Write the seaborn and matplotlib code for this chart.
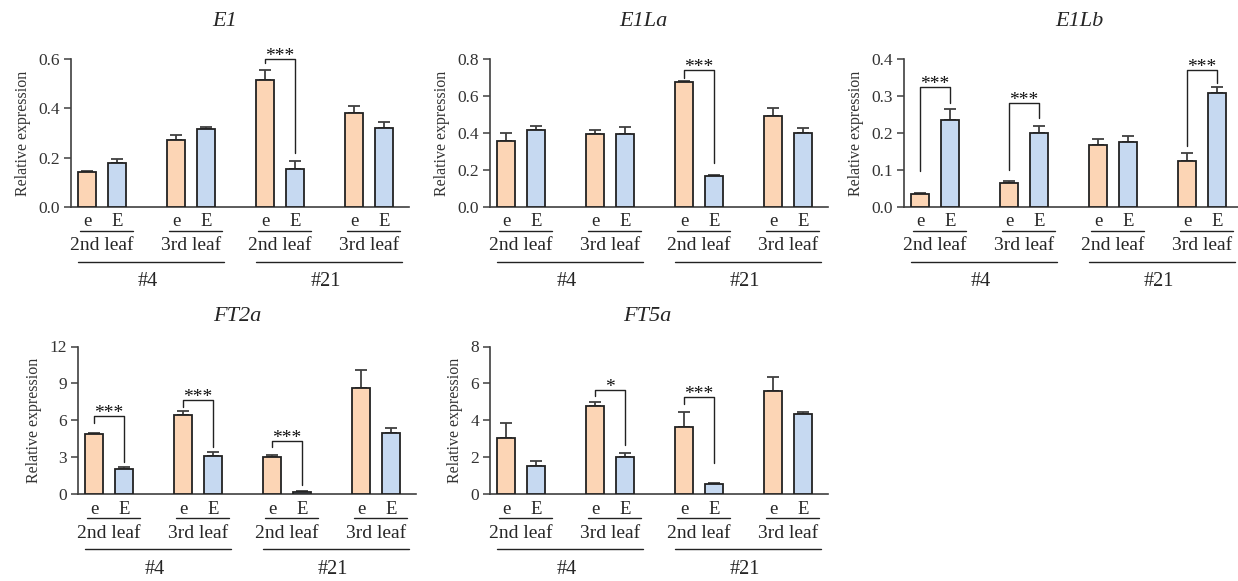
import numpy as np
import pandas as pd
import seaborn as sns
import matplotlib as mpl
import matplotlib.pyplot as plt

############################# DATA #############################
genes      = ["E1", "E1La", "E1Lb", "FT2a", "FT5a"]
treatments = ["e", "E"]
leaves     = ["2nd leaf", "3rd leaf", "2nd leaf", "3rd leaf"]
lines      = ["#4", "#21"]

# mean expression per group (#4 2nd, #4 3rd, #21 2nd, #21 3rd)
e_vals = {"E1":   [0.14, 0.27, 0.515, 0.38],
          "E1La": [0.355, 0.395, 0.675, 0.49],
          "E1Lb": [0.035, 0.065, 0.168, 0.123],
          "FT2a": [4.9, 6.45, 3.0, 8.6],
          "FT5a": [3.05, 4.8, 3.65, 5.6]}
E_vals = {"E1":   [0.18, 0.315, 0.155, 0.32],
          "E1La": [0.415, 0.395, 0.165, 0.40],
          "E1Lb": [0.235, 0.20, 0.175, 0.307],
          "FT2a": [2.0, 3.1, 0.2, 5.0],
          "FT5a": [1.5, 2.0, 0.55, 4.35]}
# upper error bars
e_errs = {"E1":   [0.005, 0.02, 0.04, 0.03],
          "E1La": [0.045, 0.02, 0.005, 0.045],
          "E1Lb": [0.002, 0.006, 0.016, 0.023],
          "FT2a": [0.1, 0.3, 0.2, 1.45],
          "FT5a": [0.8, 0.2, 0.8, 0.75]}
E_errs = {"E1":   [0.015, 0.008, 0.03, 0.025],
          "E1La": [0.025, 0.035, 0.01, 0.025],
          "E1Lb": [0.03, 0.02, 0.016, 0.016],
          "FT2a": [0.2, 0.3, 0.05, 0.4],
          "FT5a": [0.3, 0.2, 0.05, 0.12]}

ymax   = {"E1": 0.6, "E1La": 0.8, "E1Lb": 0.4, "FT2a": 12, "FT5a": 8}
ystep  = {"E1": 0.2, "E1La": 0.2, "E1Lb": 0.1, "FT2a": 3, "FT5a": 2}
yfmt   = {"E1": "%.1f", "E1La": "%.1f", "E1Lb": "%.1f", "FT2a": "%d", "FT5a": "%d"}

# significance: (group, stars, bracket height, left arm end, right arm end)
sig = {"E1":   [(2, "***", 0.60, 0.585, 0.22)],
       "E1La": [(2, "***", 0.74, 0.70, 0.24)],
       "E1Lb": [(0, "***", 0.324, 0.097, 0.281),
                (1, "***", 0.281, 0.10, 0.24),
                (3, "***", 0.37, 0.165, 0.335)],
       "FT2a": [(0, "***", 6.37, 5.8, 2.6),
                (1, "***", 7.67, 7.1, 3.85),
                (2, "***", 4.33, 3.85, 0.73)],
       "FT5a": [(1, "*", 5.66, 5.33, 2.67),
                (2, "***", 5.28, 4.9, 1.7)]}

############################# STYLE #############################
sns.set_style("white")
mpl.rcParams['font.family'] = ['Liberation Serif', 'DejaVu Serif']
my_pal = {"e": "#FCD5B5", "E": "#C6D9F1"}
axcol = "#404040"

W, H = 1238, 581
# axes rects in pixels: left, top, width, height
rects = {"E1":   (71, 59, 338, 148),
         "E1La": (490, 59, 338, 148),
         "E1Lb": (904, 59, 338, 148),
         "FT2a": (78, 346.5, 338, 147.5),
         "FT5a": (490, 346.5, 338, 147.5)}
title_x = {"E1": 0.455, "E1La": 0.453, "E1Lb": 0.52, "FT2a": 0.47, "FT5a": 0.464}
title_y = {"E1": 1.25, "E1La": 1.25, "E1Lb": 1.25, "FT2a": 1.2, "FT5a": 1.2}

fig = plt.figure(figsize=(W / 100, H / 100), dpi=100)

for g in genes:
    l, t, w, h = rects[g]
    ax = fig.add_axes([l / W, 1 - (t + h) / H, w / W, h / H])

    pos, vals, errs, trt = [], [], [], []
    for i in range(4):
        pos += [3 * i, 3 * i + 1]
        vals += [e_vals[g][i], E_vals[g][i]]
        errs += [e_errs[g][i], E_errs[g][i]]
        trt += ["e", "E"]
    df = pd.DataFrame({"pos": pos, "val": vals, "trt": trt})

    sns.barplot(data=df, x="pos", y="val", hue="trt", palette=my_pal,
                native_scale=True, dodge=False, width=0.6, errorbar=None,
                saturation=1, edgecolor="#222222", linewidth=1.3, legend=False,
                ax=ax, zorder=3)
    ax.errorbar(pos, vals, yerr=[np.zeros(len(errs)), errs], fmt='none',
                ecolor=axcol, elinewidth=1.3, capsize=4, capthick=1.3, zorder=2)

    ax.set_xlim(-0.55, 10.85)
    ax.set_ylim(0, ymax[g])
    ax.set_yticks(np.arange(0, ymax[g] + ystep[g] / 2, ystep[g]))
    ax.yaxis.set_major_formatter(mpl.ticker.FormatStrFormatter(yfmt[g]))
    ax.set_xticks([])
    ax.set_xlabel("")
    ax.set_ylabel("Relative expression", fontsize=11.5, labelpad=5, color="#333333")
    sns.despine(ax=ax)
    for s in ["left", "bottom"]:
        ax.spines[s].set_color(axcol)
        ax.spines[s].set_linewidth(1.2)
    ax.tick_params(axis='y', direction='out', length=5, width=1.1, color=axcol,
                   labelsize=12.5, labelcolor="#333333", pad=3, left=True)
    ax.text(title_x[g], title_y[g], g, transform=ax.transAxes, ha='center',
            va='center', fontsize=16, style='italic')

    # category labels under the axis
    tr = ax.get_xaxis_transform()
    for i in range(4):
        g0 = 3 * i
        for j, lab in enumerate(treatments):
            ax.annotate(lab, (g0 + j, 0), xycoords=tr, xytext=(0, -15),
                        textcoords='offset pixels', ha='center', va='center',
                        fontsize=13.5)
        ax.plot([g0 - 0.25, g0 + 1.55], [-24 / h, -24 / h], transform=tr,
                color="#222222", lw=1, clip_on=False)
        ax.annotate(leaves[i], (g0 + 0.5, 0), xycoords=tr, xytext=(0, -39),
                    textcoords='offset pixels', ha='center', va='center',
                    fontsize=14)
    for k, lab in enumerate(lines):
        g0 = 6 * k
        ax.plot([g0 - 0.3, g0 + 4.6], [-55 / h, -55 / h], transform=tr,
                color="#222222", lw=1, clip_on=False)
        ax.annotate(lab, (g0 + 2.05, 0), xycoords=tr, xytext=(0, -75),
                    textcoords='offset pixels', ha='center', va='center',
                    fontsize=14.5)

    # significance brackets
    for grp, stars, hgt, lbot, rbot in sig[g]:
        xe, xE = 3 * grp, 3 * grp + 1
        ax.plot([xe, xe, xE, xE], [lbot, hgt, hgt, rbot], color="#222222",
                lw=1, clip_on=False, zorder=4)
        ax.annotate(stars, ((xe + xE) / 2, hgt), xytext=(0, -2),
                    textcoords='offset pixels', ha='center', va='baseline',
                    fontsize=14, color='#111111')

fig.savefig("out.png", dpi=100)
